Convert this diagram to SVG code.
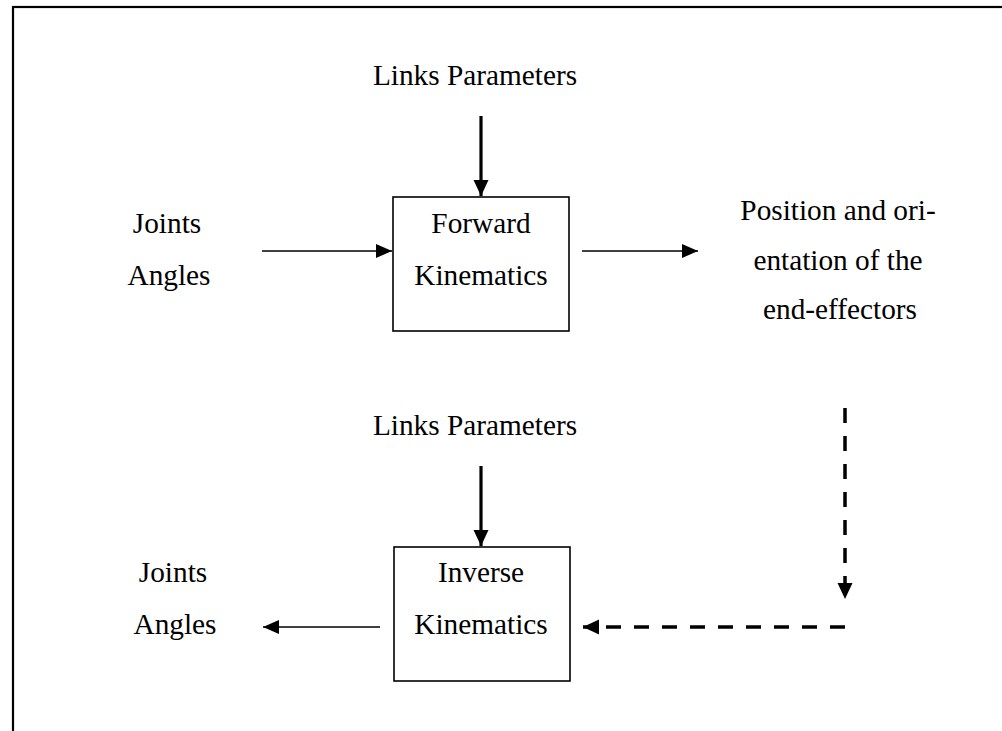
<svg xmlns="http://www.w3.org/2000/svg" width="1002" height="731" viewBox="0 0 1002 731">
<style>
text{font-family:"Liberation Serif","Times New Roman",serif;font-size:29.3px;fill:#000;text-anchor:middle}
.box{fill:#fff;stroke:#000;stroke-width:1.6}
.thin{stroke:#000;stroke-width:1.6;fill:none}
.thick{stroke:#000;stroke-width:3.2;fill:none}
.dash{stroke:#000;stroke-width:3.5;fill:none;stroke-dasharray:15 13}
</style>
<defs>
<marker id="ah" markerUnits="userSpaceOnUse" markerWidth="18" markerHeight="16" refX="16" refY="7" orient="auto">
<path d="M0,0 L16,7 L0,14 Z" fill="#000"/>
</marker>
<marker id="ahd" markerUnits="userSpaceOnUse" markerWidth="18" markerHeight="16" refX="16" refY="7.5" orient="auto">
<path d="M0,0 L16,7.5 L0,15 Z" fill="#000"/>
</marker>
</defs>
<rect x="13" y="7" width="1000" height="800" fill="#fff" stroke="#000" stroke-width="2.2"/>
<g id="connectors">
<line class="thick" x1="481" y1="116" x2="481" y2="196" marker-end="url(#ahd)"/>
<line class="thin" x1="262" y1="251" x2="392" y2="251" marker-end="url(#ah)"/>
<line class="thin" x1="582" y1="251" x2="698" y2="251" marker-end="url(#ah)"/>
<line class="dash" x1="845" y1="408" x2="845" y2="599" marker-end="url(#ahd)"/>
<line class="dash" x1="845" y1="627" x2="583" y2="627" marker-end="url(#ahd)"/>
<line class="thick" x1="481" y1="466" x2="481" y2="546" marker-end="url(#ahd)"/>
<line class="thin" x1="380" y1="627" x2="263" y2="627" marker-end="url(#ah)"/>
</g>
<g id="links-top"><text x="475" y="85">Links Parameters</text></g>
<g id="joints-top"><text x="167" y="233">Joints</text><text x="169" y="285">Angles</text></g>
<g id="forward"><rect class="box" x="393" y="197" width="176" height="134"/><text x="481" y="233">Forward</text><text x="481" y="285">Kinematics</text></g>
<g id="position"><text x="838" y="220">Position and ori-</text><text x="838" y="270">entation of the</text><text x="840" y="319">end-effectors</text></g>
<g id="links-bottom"><text x="475" y="435">Links Parameters</text></g>
<g id="inverse"><rect class="box" x="394" y="547" width="176" height="134"/><text x="481" y="582">Inverse</text><text x="481" y="634">Kinematics</text></g>
<g id="joints-bottom"><text x="173" y="582">Joints</text><text x="175" y="634">Angles</text></g>
</svg>
